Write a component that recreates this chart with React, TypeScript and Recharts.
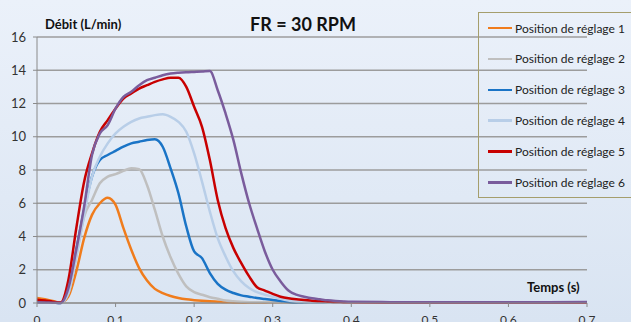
import React from "react";
import { LineChart, Line, XAxis, YAxis, CartesianGrid } from "recharts";

const times = [
  0, 0.01, 0.02, 0.03, 0.04, 0.05, 0.06, 0.07, 0.08, 0.09,
  0.1, 0.11, 0.12, 0.13, 0.14, 0.15, 0.16, 0.17, 0.18, 0.19,
  0.2, 0.21, 0.22, 0.23, 0.24, 0.25, 0.26, 0.27, 0.28, 0.29,
  0.3, 0.31, 0.32, 0.33, 0.34, 0.35, 0.36, 0.37, 0.38, 0.39,
  0.4, 0.45, 0.5, 0.55, 0.6, 0.65, 0.7,
];

const pos1 = [
  0.3, 0.22, 0.12, 0.02, 0.4, 1.9, 3.9, 5.3, 6.0, 6.33,
  5.9, 4.5, 3.2, 2.1, 1.35, 0.85, 0.6, 0.42, 0.3, 0.22,
  0.17, 0.13, 0.1, 0.08, 0.06, 0.05, 0.04, 0.03, 0.03, 0.02,
  0.02, 0.02, 0.02, 0.02, 0.02, 0.02, 0.02, 0.02, 0.02, 0.02,
  0.02, 0.02, 0.02, 0.02, 0.02, 0.02, 0.02,
];
const pos2 = [
  0.05, 0.03, 0.02, 0.0, 0.6, 2.8, 5.2, 6.2, 7.2, 7.6,
  7.75, 7.95, 8.1, 8.05, 7.1, 5.6, 4.0, 2.75, 1.75, 1.0,
  0.65, 0.5, 0.35, 0.25, 0.15, 0.1, 0.07, 0.05, 0.04, 0.04,
  0.03, 0.03, 0.03, 0.03, 0.03, 0.03, 0.03, 0.03, 0.03, 0.03,
  0.03, 0.02, 0.02, 0.02, 0.02, 0.02, 0.02,
];
const pos3 = [
  0.05, 0.03, 0.02, 0.0, 0.7, 3.2, 5.6, 7.6, 8.6, 8.9,
  9.15, 9.4, 9.6, 9.7, 9.8, 9.85, 9.4, 8.1, 6.6, 4.6,
  3.1, 2.7, 1.8, 1.15, 0.8, 0.6, 0.46, 0.38, 0.3, 0.24,
  0.18, 0.12, 0.06, 0.03, 0.03, 0.02, 0.02, 0.02, 0.02, 0.02,
  0.02, 0.02, 0.02, 0.02, 0.02, 0.02, 0.02,
];
const pos4 = [
  0.05, 0.03, 0.02, 0.0, 0.6, 2.8, 5.3, 7.6, 8.8, 9.6,
  10.2, 10.6, 10.9, 11.1, 11.2, 11.3, 11.35, 11.2, 10.9, 10.3,
  9.0, 7.3, 5.5, 3.9, 2.8, 1.9, 1.3, 0.9, 0.65, 0.5,
  0.38, 0.25, 0.15, 0.08, 0.05, 0.03, 0.03, 0.02, 0.02, 0.02,
  0.02, 0.02, 0.02, 0.02, 0.02, 0.02, 0.02,
];
const pos5 = [
  0.2, 0.15, 0.08, 0.03, 1.4, 4.5, 7.3, 9.0, 10.3, 11.0,
  11.7, 12.3, 12.6, 12.9, 13.1, 13.3, 13.45, 13.55, 13.55, 13.0,
  11.8, 10.6, 8.6, 6.2, 4.5, 3.3, 2.4, 1.6, 0.95, 0.75,
  0.55, 0.38, 0.28, 0.22, 0.18, 0.14, 0.1, 0.08, 0.06, 0.05,
  0.04, 0.03, 0.03, 0.03, 0.03, 0.03, 0.03,
];
const pos6 = [
  0.05, 0.03, 0.02, 0.0, 0.9, 3.2, 5.8, 8.9, 10.2, 10.7,
  11.7, 12.4, 12.7, 13.1, 13.4, 13.55, 13.7, 13.8, 13.85, 13.88,
  13.9, 13.92, 13.95, 12.8, 11.4, 9.8, 7.8, 6.0, 4.5, 3.1,
  2.0, 1.3, 0.75, 0.5, 0.38, 0.28, 0.22, 0.16, 0.12, 0.09,
  0.07, 0.05, 0.04, 0.04, 0.04, 0.05, 0.06,
];

const xTicks = [0, 0.1, 0.2, 0.3, 0.4, 0.5, 0.6, 0.7];
const yTicks = [0, 2, 4, 6, 8, 10, 12, 14, 16];

const seriesNames = [
  "Position de réglage 1",
  "Position de réglage 2",
  "Position de réglage 3",
  "Position de réglage 4",
  "Position de réglage 5",
  "Position de réglage 6",
];
const seriesValues = [pos1, pos2, pos3, pos4, pos5, pos6];
const colors = ["#f07c1c", "#bfbfbf", "#1a74c6", "#b8cee8", "#c80000", "#7a5c9c"];

const data = times.map((t, i) => {
  const row: Record<string, number> = { t };
  seriesValues.forEach((s, k) => {
    row["s" + k] = s[i];
  });
  return row;
});

const font = "Lato, 'Open Sans', sans-serif";

export default function App() {
  return (
    <div
      style={{
        position: "fixed",
        left: 0,
        top: 0,
        width: 631,
        height: 322,
        overflow: "hidden",
        background: "linear-gradient(180deg, #ebf1fa 0%, #d9e4f2 100%)",
        fontFamily: font,
      }}
    >
      <LineChart width={631} height={322} data={data} margin={{ top: 37, right: 44, bottom: 0, left: 0 }}>
        <CartesianGrid vertical={false} stroke="#9c9c9c" strokeWidth={1.5} />
        <XAxis
          dataKey="t"
          type="number"
          domain={[0, 0.7]}
          ticks={xTicks}
          height={19}
          tickSize={4}
          tickMargin={8}
          stroke="#8a8a8a"
          tick={{ fill: "#333", fontSize: 12, fontFamily: font }}
          tickFormatter={(v: number) => String(v)}
        />
        <YAxis
          domain={[0, 16]}
          ticks={yTicks}
          width={37}
          tickSize={4}
          tickMargin={7}
          stroke="#8a8a8a"
          tick={{ fill: "#333", fontSize: 13, fontFamily: font }}
        />
        {seriesNames.map((name, k) => (
          <Line
            key={name}
            type="monotone"
            dataKey={"s" + k}
            name={name}
            stroke={colors[k]}
            strokeWidth={2.5}
            dot={false}
            isAnimationActive={false}
          />
        ))}
      </LineChart>

      <div style={{ position: "absolute", left: 0, width: 606, top: 13, textAlign: "center", fontSize: 18, fontWeight: 700, color: "#111" }}>
        FR = 30 RPM
      </div>
      <div style={{ position: "absolute", left: 45, top: 16, fontSize: 13, fontWeight: 700, color: "#111" }}>
        Débit (L/min)
      </div>
      <div style={{ position: "absolute", left: 527, top: 279, fontSize: 13, fontWeight: 700, color: "#111" }}>
        Temps (s)
      </div>

      <div
        style={{
          position: "absolute",
          left: 478,
          top: 12,
          width: 170,
          height: 186,
          border: "1px solid #a59e6c",
          boxSizing: "border-box",
        }}
      >
        {seriesNames.map((name, k) => (
          <div key={name} style={{ position: "absolute", left: 9, top: 7 + k * 30.9, height: 16, display: "flex", alignItems: "center" }}>
            <div style={{ width: 24, height: 2.5, background: colors[k] }} />
            <span style={{ marginLeft: 3, fontSize: 12, color: "#222", whiteSpace: "nowrap" }}>{name}</span>
          </div>
        ))}
      </div>
    </div>
  );
}
